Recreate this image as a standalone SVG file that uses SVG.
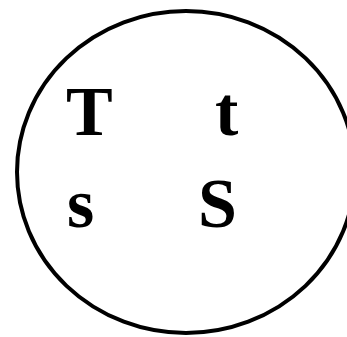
<svg xmlns="http://www.w3.org/2000/svg" width="347" height="337" viewBox="0 0 347 337">
<style>
.l{font-family:"Liberation Serif","Times New Roman",serif;font-weight:bold;font-size:70px;fill:#000}
</style>
<rect width="347" height="337" fill="#fff"/>
<g id="circle"><ellipse cx="186" cy="172" rx="169" ry="161" fill="none" stroke="#000" stroke-width="4"/></g>
<g id="T"><text class="l" x="66" y="135">T</text></g>
<g id="t"><text class="l" x="215" y="135">t</text></g>
<g id="s"><text class="l" x="67" y="227">s</text></g>
<g id="S"><text class="l" x="198" y="227">S</text></g>
</svg>
